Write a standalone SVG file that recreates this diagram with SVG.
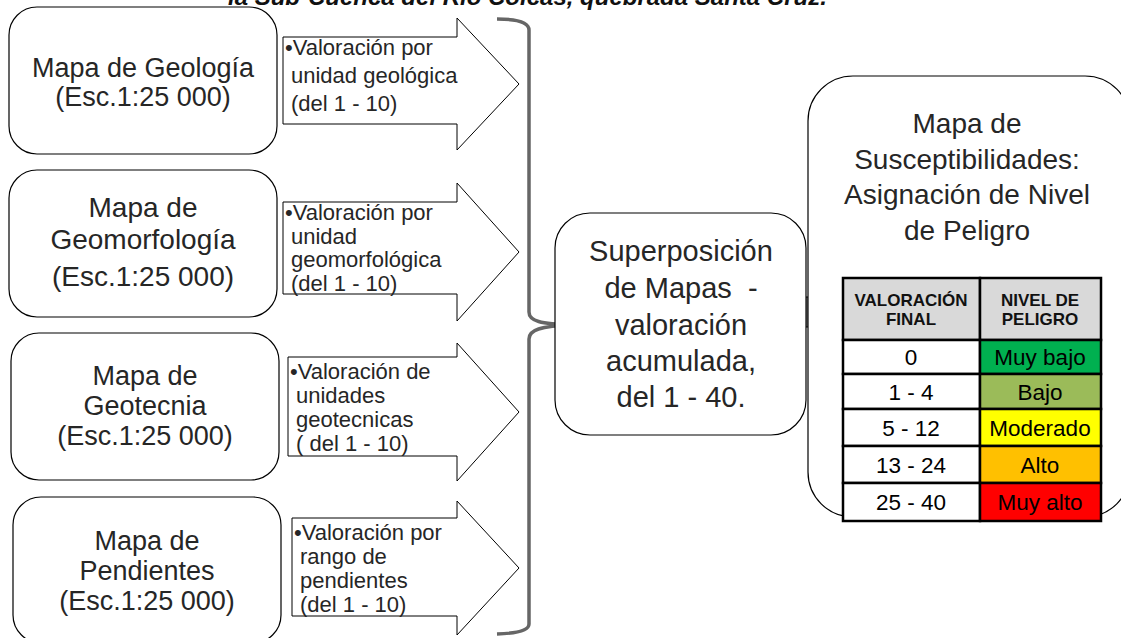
<svg xmlns="http://www.w3.org/2000/svg" width="1121" height="638" viewBox="0 0 1121 638">
<style>
.box{fill:#fff;stroke:#000;stroke-width:1.2}
.arr{fill:#fff;stroke:#000;stroke-width:1}
.t{font-family:"Liberation Sans",Arial,sans-serif;fill:#262626;text-anchor:middle}
.big{font-size:27px}
.b28{font-size:28px}
.at{font-family:"Liberation Sans",Arial,sans-serif;fill:#262626;font-size:22px}
.th{font-family:"Liberation Sans",Arial,sans-serif;font-weight:bold;font-size:17px;fill:#111;text-anchor:middle}
.td{font-family:"Liberation Sans",Arial,sans-serif;font-size:22.5px;fill:#000;text-anchor:middle}
.cell{stroke:#000;stroke-width:2.5}
</style>
<rect width="1121" height="638" fill="#fff"/>
<text x="228" y="5" font-family="Liberation Sans,Arial,sans-serif" font-weight="bold" font-style="italic" font-size="24" fill="#111">la Sub-Cuenca del Río Colcas, quebrada Santa Cruz.</text>

<g id="connectors">
<path d="M497 19 Q529 19 529 30 L529 312 C529 321 540 324 573 325 C540 326 529 330 529 339 L529 624 Q529 633 497 634" fill="none" stroke="#666" stroke-width="3.5"/>
<polygon points="793,297 811,297 811,281 829,313 811,345 811,327 793,327" fill="#7f7f7f" stroke="#000" stroke-width="1.2"/>
</g>

<g id="geologia">
<rect class="box" x="9" y="7" width="268" height="147" rx="28"/>
<text class="t big" x="143" y="77">Mapa de Geología</text>
<text class="t big" x="143" y="106">(Esc.1:25 000)</text>
</g>
<g id="arrow-geologia">
<polygon class="arr" points="283,37 457,37 457,18 519,84 457,150 457,124 283,124"/>
<text class="at" x="285" y="55">•Valoración por</text>
<text class="at" x="291" y="83">unidad geológica</text>
<text class="at" x="291" y="111">(del 1 - 10)</text>
</g>

<g id="geomorfologia">
<rect class="box" x="9" y="170" width="268" height="147" rx="28"/>
<text class="t b28" x="143" y="217">Mapa de</text>
<text class="t b28" x="143" y="249">Geomorfología</text>
<text class="t b28" x="143" y="286">(Esc.1:25 000)</text>
</g>
<g id="arrow-geomorfologia">
<polygon class="arr" points="283,202 457,202 457,183 519,252 457,321 457,294 283,294"/>
<text class="at" x="285" y="220">•Valoración por</text>
<text class="at" x="291" y="244">unidad</text>
<text class="at" x="291" y="267">geomorfológica</text>
<text class="at" x="291" y="291">(del 1 - 10)</text>
</g>

<g id="geotecnia">
<rect class="box" x="11" y="333" width="268" height="147" rx="28"/>
<text class="t big" x="145" y="385">Mapa de</text>
<text class="t big" x="145" y="415">Geotecnia</text>
<text class="t big" x="145" y="445">(Esc.1:25 000)</text>
</g>
<g id="arrow-geotecnia">
<polygon class="arr" points="288,357 457,357 457,343 519,412 457,481 457,456 288,456"/>
<text class="at" x="290" y="379">•Valoración de</text>
<text class="at" x="296" y="403">unidades</text>
<text class="at" x="296" y="427">geotecnicas</text>
<text class="at" x="296" y="451">( del 1 - 10)</text>
</g>

<g id="pendientes">
<rect class="box" x="13" y="497" width="268" height="146" rx="28"/>
<text class="t big" x="147" y="550">Mapa de</text>
<text class="t big" x="147" y="580">Pendientes</text>
<text class="t big" x="147" y="610">(Esc.1:25 000)</text>
</g>
<g id="arrow-pendientes">
<polygon class="arr" points="292,518 457,518 457,501 519,568 457,635 457,616 292,616"/>
<text class="at" x="294" y="540">•Valoración por</text>
<text class="at" x="300" y="564">rango de</text>
<text class="at" x="300" y="588">pendientes</text>
<text class="at" x="300" y="612">(del 1 - 10)</text>
</g>

<g id="superposicion">
<rect class="box" x="555" y="213" width="251" height="222" rx="35"/>
<text class="t" font-size="29" x="681" y="261">Superposición</text>
<text class="t" font-size="29" x="681" y="298" xml:space="preserve">de Mapas  -</text>
<text class="t" font-size="29" x="681" y="335">valoración</text>
<text class="t" font-size="29" x="681" y="371">acumulada,</text>
<text class="t" font-size="29" x="681" y="407">del 1 - 40.</text>
</g>

<g id="susceptibilidades">
<rect class="box" x="808" y="76" width="322" height="441" rx="45"/>
<text class="t b28" x="967" y="133">Mapa de</text>
<text class="t b28" x="967" y="169">Susceptibilidades:</text>
<text class="t b28" x="967" y="204">Asignación de Nivel</text>
<text class="t b28" x="967" y="240">de Peligro</text>
<g id="tabla">
<rect x="843" y="278" width="137" height="62" fill="#d9d9d9" class="cell"/>
<rect x="980" y="278" width="121" height="62" fill="#d9d9d9" class="cell"/>
<rect x="843" y="340" width="137" height="34" fill="#fff" class="cell"/>
<rect x="980" y="340" width="121" height="34" fill="#00b050" class="cell"/>
<rect x="843" y="374" width="137" height="35" fill="#fff" class="cell"/>
<rect x="980" y="374" width="121" height="35" fill="#9bbb59" class="cell"/>
<rect x="843" y="409" width="137" height="37" fill="#fff" class="cell"/>
<rect x="980" y="409" width="121" height="37" fill="#ffff00" class="cell"/>
<rect x="843" y="446" width="137" height="37" fill="#fff" class="cell"/>
<rect x="980" y="446" width="121" height="37" fill="#ffc000" class="cell"/>
<rect x="843" y="483" width="137" height="38" fill="#fff" class="cell"/>
<rect x="980" y="483" width="121" height="38" fill="#ff0000" class="cell"/>
<text class="th" x="911" y="306">VALORACIÓN</text>
<text class="th" x="911" y="325">FINAL</text>
<text class="th" x="1040" y="306">NIVEL DE</text>
<text class="th" x="1040" y="325">PELIGRO</text>
<text class="td" x="911" y="365">0</text>
<text class="td" x="1040" y="365">Muy bajo</text>
<text class="td" x="911" y="400">1 - 4</text>
<text class="td" x="1040" y="400">Bajo</text>
<text class="td" x="911" y="436">5 - 12</text>
<text class="td" x="1040" y="436">Moderado</text>
<text class="td" x="911" y="473">13 - 24</text>
<text class="td" x="1040" y="473">Alto</text>
<text class="td" x="911" y="510">25 - 40</text>
<text class="td" x="1040" y="510">Muy alto</text>
</g>
</g>
</svg>
